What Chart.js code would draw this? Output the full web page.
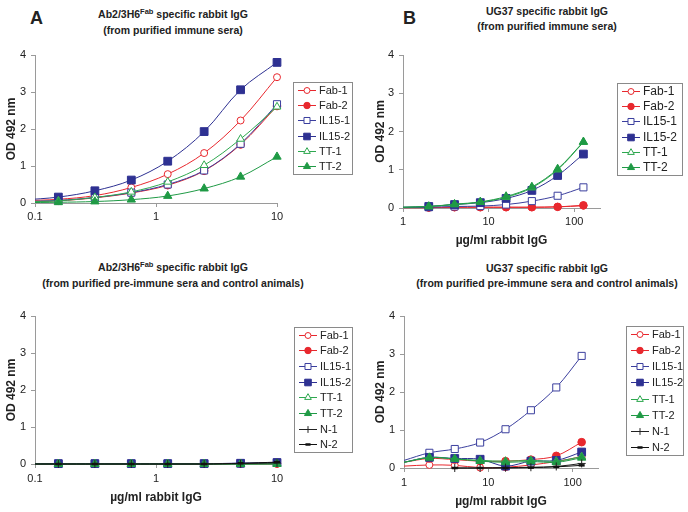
<!DOCTYPE html>
<html>
<head>
<meta charset="utf-8">
<script src="https://cdn.jsdelivr.net/npm/chart.js@4.4.1/dist/chart.umd.min.js"></script>
<style>
  body { margin: 0; background: #fff; }
  #page { position: relative; width: 688px; height: 512px; overflow: hidden;
    font-family: "Liberation Sans", Arial, sans-serif; color: #222; }
  .box { position: absolute; }
  .ttl { position: absolute; transform: translateX(-50%); text-align: center;
    font-weight: bold; font-size: 10.5px; line-height: 15px; white-space: nowrap; }
  .sup { font-size: 7.5px; position: relative; top: -4px; }
  .lab { position: absolute; font-weight: bold; font-size: 18px; line-height: 18px; }
</style>
</head>
<body>
<div id="page">
  <div class="lab" style="left:30px;top:9px;">A</div>
  <div class="lab" style="left:403px;top:9px;">B</div>
  <div class="ttl" style="left:173px;top:7px;">Ab2/3H6<span class="sup">Fab</span> specific rabbit IgG<br>(from purified immune sera)</div>
  <div class="ttl" style="left:547px;top:4px;">UG37 specific rabbit IgG<br>(from purified immune sera)</div>
  <div class="ttl" style="left:173px;top:260px;">Ab2/3H6<span class="sup">Fab</span> specific rabbit IgG<br>(from purified pre-immune sera and control animals)</div>
  <div class="ttl" style="left:547px;top:261px;">UG37 specific rabbit IgG<br>(from purified pre-immune sera and control animals)</div>

  <div class="box" style="left:0px;top:40px;width:356px;height:187px;"><canvas id="chartA"></canvas></div>
  <div class="box" style="left:360px;top:40px;width:328px;height:210px;"><canvas id="chartB"></canvas></div>
  <div class="box" style="left:0px;top:300px;width:356px;height:207px;"><canvas id="chartC"></canvas></div>
  <div class="box" style="left:360px;top:300px;width:328px;height:211px;"><canvas id="chartD"></canvas></div>
</div>

<script>
// concentrations (µg/ml), first point of each series sits at/left of the axis start
const concAb2 = [0.078, 0.156, 0.3125, 0.625, 1.25, 2.5, 5, 10];
const concUG37 = [1, 2, 4, 8, 16, 32, 64, 128];
const ticksAb2 = [0.1, 1, 10];
const ticksUG37 = [1, 10, 100];
const ticksOD = [0, 1, 2, 3, 4];

const namesImmune = ["Fab-1", "Fab-2", "IL15-1", "IL15-2", "TT-1", "TT-2"];
const namesControl = ["Fab-1", "Fab-2", "IL15-1", "IL15-2", "TT-1", "TT-2", "N-1", "N-2"];

// A: Ab2/3H6Fab, immune sera
const aFab1 = [0.06, 0.1, 0.2, 0.42, 0.78, 1.35, 2.23, 3.4];
const aFab2 = [0.03, 0.06, 0.14, 0.27, 0.48, 0.87, 1.58, 2.62];
const aIL151 = [0.04, 0.07, 0.15, 0.28, 0.5, 0.88, 1.6, 2.67];
const aIL152 = [0.08, 0.16, 0.33, 0.62, 1.13, 1.93, 3.06, 3.8];
const aTT1 = [0.03, 0.06, 0.15, 0.3, 0.57, 1.02, 1.73, 2.6];
const aTT2 = [0.01, 0.02, 0.04, 0.09, 0.19, 0.39, 0.71, 1.25];

// B: UG37, immune sera
const bFab1 = [0.01, 0.01, 0.02, 0.02, 0.02, 0.02, 0.03, 0.06];
const bFab2 = [0.01, 0.01, 0.02, 0.02, 0.02, 0.02, 0.03, 0.07];
const bIL151 = [0.01, 0.02, 0.04, 0.05, 0.09, 0.18, 0.32, 0.54];
const bIL152 = [0.02, 0.04, 0.09, 0.14, 0.25, 0.46, 0.85, 1.41];
const bTT1 = [0.02, 0.04, 0.09, 0.15, 0.28, 0.53, 1.0, 1.72];
const bTT2 = [0.02, 0.04, 0.1, 0.16, 0.3, 0.55, 1.02, 1.73];

// C: Ab2/3H6Fab, pre-immune + controls
const cFab1 = [0.01, 0.01, 0.01, 0.01, 0.01, 0.01, 0.01, 0.01];
const cFab2 = [0.01, 0.01, 0.01, 0.01, 0.01, 0.01, 0.01, 0.01];
const cIL151 = [0.01, 0.01, 0.01, 0.01, 0.01, 0.01, 0.02, 0.03];
const cIL152 = [0.01, 0.01, 0.01, 0.01, 0.01, 0.01, 0.02, 0.04];
const cTT1 = [0.0, 0.0, 0.0, 0.0, 0.0, 0.0, 0.0, 0.01];
const cTT2 = [0.0, 0.0, 0.0, 0.0, 0.0, 0.0, 0.0, 0.0];
const cN1 = [0.0, 0.0, 0.0, 0.0, 0.0, 0.0, 0.01, 0.03];
const cN2 = [0.0, 0.0, 0.0, 0.0, 0.0, 0.0, 0.02, 0.05];

// D: UG37, pre-immune + controls
const dFab1 = [0.05, 0.08, 0.07, 0.01, 0.02, 0.08, 0.17, 0.3];
const dFab2 = [0.15, 0.25, 0.22, 0.18, 0.18, 0.22, 0.32, 0.68];
const dIL151 = [0.2, 0.4, 0.5, 0.67, 1.02, 1.52, 2.12, 2.95];
const dIL152 = [0.15, 0.28, 0.25, 0.23, 0.05, 0.18, 0.2, 0.42];
const dTT1 = [0.15, 0.28, 0.24, 0.2, 0.18, 0.2, 0.18, 0.3];
const dTT2 = [0.15, 0.27, 0.24, 0.18, 0.15, 0.17, 0.15, 0.27];
const dN1 = [null, null, 0.0, 0.0, 0.01, 0.02, 0.04, 0.12];
const dN2 = [null, null, 0.0, 0.0, 0.0, 0.01, 0.03, 0.07];

const FONT = '"Liberation Sans", Arial, sans-serif';
Chart.defaults.font.family = FONT;
Chart.defaults.font.size = 11;
Chart.defaults.color = "#222";

// marker look per series name
const looks = {
  "Fab-1": { line: "#e8282e", shape: "circle", filled: false, r: 3.5, bw: 1 },
  "Fab-2": { line: "#e8282e", shape: "circle", filled: true, r: 3.8, bw: 1 },
  "IL15-1": { line: "#3b3f9e", shape: "rect", filled: false, r: 5, bw: 1 },
  "IL15-2": { line: "#2e3192", shape: "rect", filled: true, r: 5.5, bw: 1 },
  "TT-1": { line: "#2ea84f", shape: "triangle", filled: false, r: 4.5, bw: 1 },
  "TT-2": { line: "#1f9a45", shape: "triangle", filled: true, r: 4.8, bw: 1 },
  "N-1": { line: "#222", shape: "cross", filled: false, r: 4, bw: 1 },
  "N-2": { line: "#111", shape: "line", filled: true, r: 3, bw: 2.5 },
};

// legend box with line + marker, like the spreadsheet legend
const boxLegend = {
  id: "boxLegend",
  afterDraw(chart, args, opts) {
    const ctx = chart.ctx;
    const sets = chart.data.datasets;
    ctx.save();
    ctx.fillStyle = "#fff";
    ctx.fillRect(opts.x, opts.y, opts.w, opts.h);
    ctx.strokeStyle = "#8a8a8a";
    ctx.lineWidth = 1;
    ctx.strokeRect(opts.x + 0.5, opts.y + 0.5, opts.w, opts.h);
    const rowH = opts.h / sets.length;
    sets.forEach(function (ds, i) {
      const s = looks[ds.label];
      const cy = Math.round(opts.y + rowH * (i + 0.5)) + 0.5;
      const x0 = opts.x + 5;
      const x1 = x0 + 18;
      ctx.strokeStyle = s.line;
      ctx.lineWidth = 1;
      ctx.beginPath();
      ctx.moveTo(x0, cy);
      ctx.lineTo(x1, cy);
      ctx.stroke();
      ctx.fillStyle = s.filled ? s.line : "#fff";
      ctx.strokeStyle = s.line;
      ctx.lineWidth = s.bw;
      Chart.helpers.drawPoint(ctx, { pointStyle: s.shape, radius: s.r * 0.85, rotation: 0, borderWidth: s.bw }, (x0 + x1) / 2, cy);
      ctx.fillStyle = "#222";
      ctx.font = (opts.size || 11) + "px " + FONT;
      ctx.textBaseline = "middle";
      ctx.textAlign = "left";
      ctx.fillText(ds.label, x1 + 3, cy);
    });
    ctx.restore();
  },
};

function makeSets(names, conc, values) {
  return names.map(function (name, i) {
    const s = looks[name];
    return {
      label: name,
      data: values[i].map(function (v, k) { return { x: conc[k], y: v }; }),
      borderColor: s.line,
      borderWidth: 1,
      pointStyle: s.shape,
      pointRadius: function (c) { return c.dataIndex === 0 ? 0 : s.r; },
      pointBorderColor: s.line,
      pointBackgroundColor: s.filled ? s.line : "#fff",
      pointBorderWidth: s.bw,
      tension: 0.35,
      spanGaps: false,
      order: -i,
      clip: { left: 0, top: false, right: false, bottom: false },
    };
  });
}

function makeChart(id, sets, p) {
  const axisGray = "#9a9a9a";
  return new Chart(document.getElementById(id), {
    type: "line",
    data: { datasets: sets },
    options: {
      responsive: true,
      maintainAspectRatio: false,
      animation: false,
      events: [],
      layout: { padding: { top: p.padTop, right: p.padRight, left: 0, bottom: 0 } },
      plugins: { legend: { display: false }, tooltip: { enabled: false }, boxLegend: p.legend },
      scales: {
        x: {
          type: "logarithmic",
          min: p.xMin,
          max: p.xMax,
          afterBuildTicks: function (axis) {
            axis.ticks = p.xTicks.map(function (v) { return { value: v }; });
          },
          afterFit: function (scale) { scale.height = p.xHeight; },
          ticks: { autoSkip: false, maxRotation: 0, padding: p.xPad, callback: function (v) { return String(v); } },
          grid: { display: true, drawOnChartArea: false, drawTicks: true, tickLength: 4, color: axisGray },
          border: { display: true, color: axisGray, width: 1 },
          title: { display: !!p.xTitle, text: p.xTitle, font: { weight: "bold", size: 12 }, padding: { top: 0, bottom: 2 } },
        },
        y: {
          min: 0,
          max: 4,
          afterBuildTicks: function (axis) {
            axis.ticks = ticksOD.map(function (v) { return { value: v }; });
          },
          afterFit: function (scale) { scale.width = p.yWidth; },
          ticks: { padding: 5 },
          grid: { display: true, drawOnChartArea: false, drawTicks: true, tickLength: 4, color: axisGray },
          border: { display: true, color: axisGray, width: 1 },
          title: { display: true, text: "OD 492 nm", font: { weight: "bold", size: 12 }, padding: { top: p.yTitlePad, bottom: 0 } },
        },
      },
    },
    plugins: [boxLegend],
  });
}

makeChart("chartA", makeSets(namesImmune, concAb2, [aFab1, aFab2, aIL151, aIL152, aTT1, aTT2]), {
  padTop: 15, padRight: 79, xMin: 0.1, xMax: 10, xTicks: ticksAb2, xHeight: 24, xPad: 3,
  yWidth: 35, yTitlePad: 4, xTitle: "",
  legend: { x: 293, y: 42, w: 59, h: 92 },
});

makeChart("chartB", makeSets(namesImmune, concUG37, [bFab1, bFab2, bIL151, bIL152, bTT1, bTT2]), {
  padTop: 15, padRight: 88, xMin: 1, xMax: 200, xTicks: ticksUG37, xHeight: 42, xPad: 3,
  yWidth: 43, yTitlePad: 13, xTitle: "µg/ml rabbit IgG",
  legend: { x: 257, y: 43, w: 65, h: 92, size: 12 },
});

makeChart("chartC", makeSets(namesControl, concAb2, [cFab1, cFab2, cIL151, cIL152, cTT1, cTT2, cN1, cN2]), {
  padTop: 16, padRight: 79, xMin: 0.1, xMax: 10, xTicks: ticksAb2, xHeight: 43, xPad: 4,
  yWidth: 35, yTitlePad: 4, xTitle: "µg/ml rabbit IgG",
  legend: { x: 294, y: 27, w: 58, h: 125 },
});

makeChart("chartD", makeSets(namesControl, concUG37, [dFab1, dFab2, dIL151, dIL152, dTT1, dTT2, dN1, dN2]), {
  padTop: 16, padRight: 90, xMin: 1, xMax: 200, xTicks: ticksUG37, xHeight: 43, xPad: 4,
  yWidth: 44, yTitlePad: 13, xTitle: "µg/ml rabbit IgG",
  legend: { x: 266, y: 26, w: 57, h: 129 },
});
</script>
</body>
</html>
